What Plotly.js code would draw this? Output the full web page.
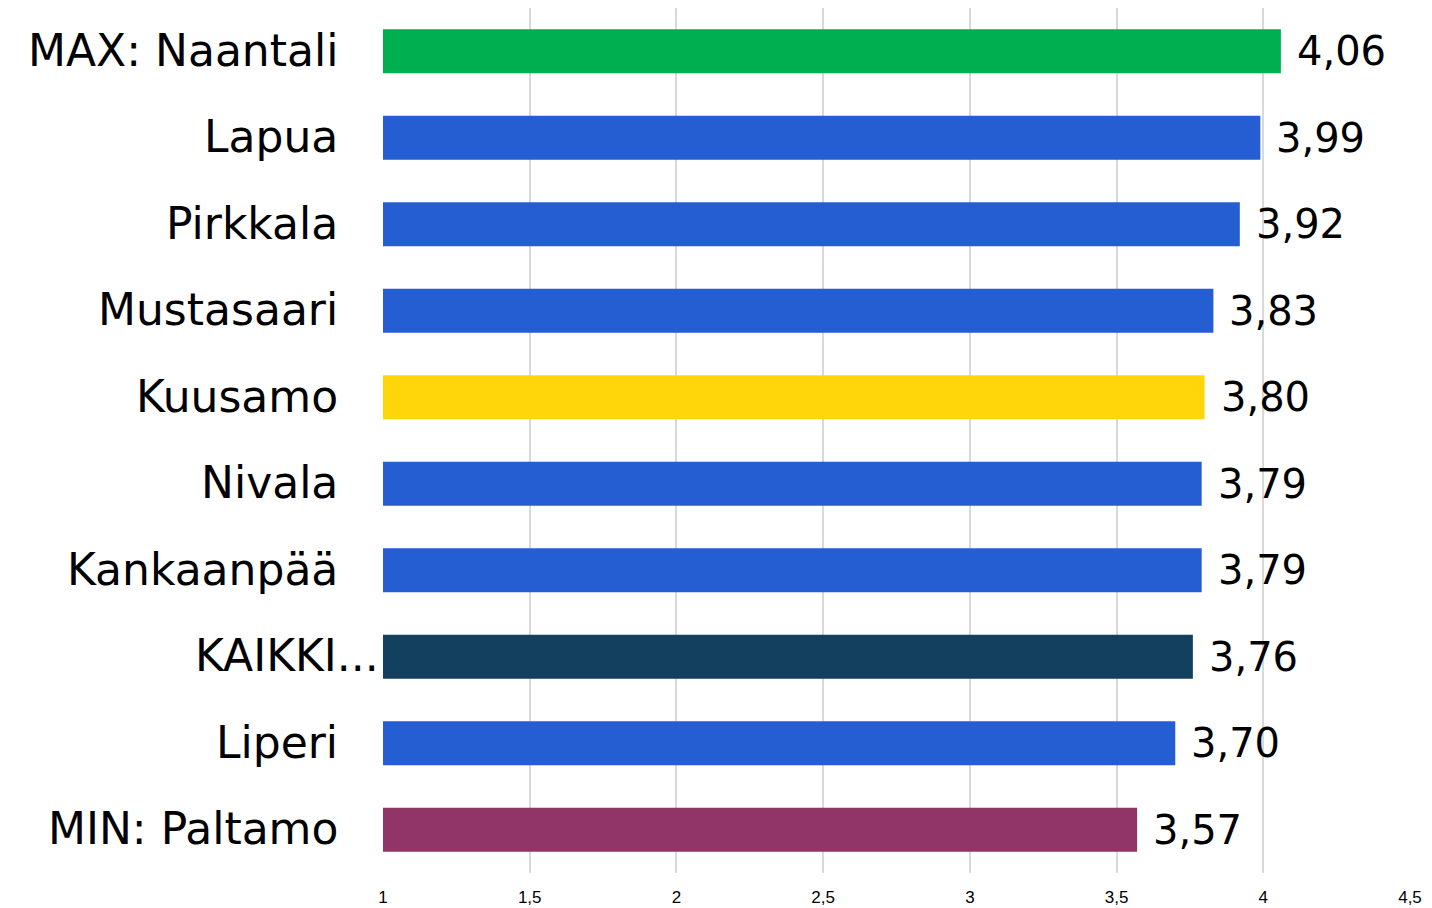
<!DOCTYPE html>
<html>
<head>
<meta charset="utf-8">
<script src="https://cdn.plot.ly/plotly-3.0.1.min.js"></script>
<style>html,body{margin:0;padding:0;background:#fff;}#chart{width:1432px;height:908px;}</style>
</head>
<body>
<div id="chart"></div>
<script>
var categories = ["MAX: Naantali", "Lapua", "Pirkkala", "Mustasaari", "Kuusamo", "Nivala", "Kankaanpää", "KAIKKI...", "Liperi", "MIN: Paltamo"];
var values = [4.06, 3.99, 3.92, 3.83, 3.80, 3.79, 3.79, 3.76, 3.70, 3.57];
var valueLabels = ["4,06", "3,99", "3,92", "3,83", "3,80", "3,79", "3,79", "3,76", "3,70", "3,57"];
var barColors = ["#00af50", "#255ed3", "#255ed3", "#255ed3", "#ffd60a", "#255ed3", "#255ed3", "#13405f", "#255ed3", "#913467"];
var tickVals = [1, 1.5, 2, 2.5, 3, 3.5, 4, 4.5];
var tickLabels = ["1", "1,5", "2", "2,5", "3", "3,5", "4", "4,5"];

var trace = {
  type: "bar",
  orientation: "h",
  y: categories,
  x: values,
  width: 0.51,
  marker: {color: barColors},
  hoverinfo: "none"
};

var annotations = [];
categories.forEach(function (c, i) {
  annotations.push({
    xref: "paper", yref: "y",
    x: c === "KAIKKI..." ? -0.002 : -0.042,
    y: c,
    text: c,
    showarrow: false,
    xanchor: "right", yanchor: "middle",
    yshift: 1,
    font: {family: "DejaVu Sans", size: 44, color: "#000"}
  });
  annotations.push({
    xref: "x", yref: "y",
    x: values[i], y: c,
    text: valueLabels[i],
    showarrow: false,
    xanchor: "left", yanchor: "middle",
    xshift: 14,
    font: {family: "DejaVu Sans", size: 40, color: "#000"}
  });
});

var layout = {
  width: 1432, height: 908,
  margin: {l: 383, r: 22, t: 8, b: 35, pad: 0},
  paper_bgcolor: "#fff", plot_bgcolor: "#fff",
  showlegend: false,
  xaxis: {
    range: [1, 4.5],
    tickvals: tickVals,
    ticktext: tickLabels,
    showgrid: true,
    gridcolor: "#d9d9d9",
    gridwidth: 2,
    zeroline: false,
    showline: false,
    ticks: "outside",
    ticklen: 9,
    tickcolor: "rgba(0,0,0,0)",
    tickfont: {family: "Liberation Sans", size: 17, color: "#000"}
  },
  yaxis: {
    type: "category",
    autorange: "reversed",
    showticklabels: false,
    showgrid: false,
    zeroline: false,
    showline: false
  },
  annotations: annotations
};

Plotly.newPlot("chart", [trace], layout, {displayModeBar: false, staticPlot: true});
</script>
</body>
</html>
